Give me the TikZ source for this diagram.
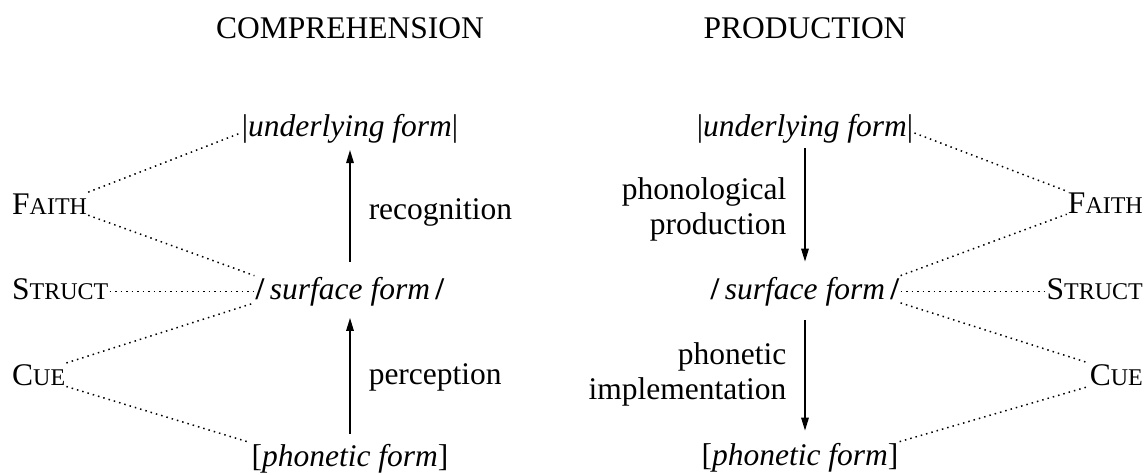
\documentclass[tikz,border=0pt]{standalone}
\usepackage{fontspec}
\setmainfont{Liberation Serif}
\usetikzlibrary{arrows.meta}
\newcommand\mysc[2]{#1{\fontsize{24}{28}\selectfont #2}}
\begin{document}
\begin{tikzpicture}[x=1pt,y=-1pt,
  every node/.style={inner sep=1pt, font=\fontsize{31.5}{35}\selectfont},
  dotline/.style={line width=1.5pt, dash pattern=on 1.5pt off 4pt},
  arr/.style={line width=1.5pt, -{Triangle[length=13pt,width=7.5pt]}},
  lab/.style={inner sep=0pt}
]
\useasboundingbox (0,0) rectangle (1147,474);

% titles
\node[anchor=base] (tC) at (350,38) {COMPREHENSION};
\node[anchor=base] (tP) at (805,38) {PRODUCTION};

% left column
\node[anchor=base] (uL) at (350,136) {|\textit{underlying form}|};
\node[anchor=base] (sL) at (350,299) {\textbf{/}\,\textit{surface form}\,\textbf{/}};
\node[anchor=base] (pL) at (350,466) {[\textit{phonetic form}]};
\node[anchor=base west] (fL) at (11,214) {\mysc{F}{AITH}};
\node[anchor=base west] (stL) at (11,299) {\mysc{S}{TRUCT}};
\node[anchor=base west] (cL) at (11,385) {\mysc{C}{UE}};

% right column
\node[anchor=base] (uR) at (805,136) {|\textit{underlying form}|};
\node[anchor=base] (sR) at (805,299) {\textbf{/}\,\textit{surface form}\,\textbf{/}};
\node[anchor=base] (pR) at (800,465) {[\textit{phonetic form}]};
\node[anchor=base east] (fR) at (1144,213) {\mysc{F}{AITH}};
\node[anchor=base east] (stR) at (1144,299) {\mysc{S}{TRUCT}};
\node[anchor=base east] (cR) at (1144,385) {\mysc{C}{UE}};

% dotted connectors, left
\draw[dotline] (fL.north east) -- ([yshift=3pt]uL.base west);
\draw[dotline] (fL.south east) -- (sL.north west);
\draw[dotline] (stL.east |- sL.west) -- (sL.west);
\draw[dotline] (cL.north east) -- ([yshift=4pt]sL.south west);
\draw[dotline] (cL.south east) -- (pL.north west);

% dotted connectors, right
\draw[dotline] ([yshift=3pt]uR.base east) -- (fR.north west);
\draw[dotline] (sR.north east) -- (fR.south west);
\draw[dotline] (sR.east) -- (stR.west |- sR.east);
\draw[dotline] ([yshift=4pt]sR.south east) -- (cR.north west);
\draw[dotline] (pR.north east) -- (cR.south west);

% arrows, left
\draw[arr, shorten <=14pt, shorten >=6pt] (sL.north) --
  node[lab, anchor=west, xshift=18pt, yshift=-3pt] (recL) {recognition} (uL.south);
\draw[arr, shorten <=9pt, shorten >=11pt] (pL.north) --
  node[lab, anchor=west, xshift=18pt, yshift=-3pt] (perL) {perception} (sL.south);

% arrows, right
\draw[arr, shorten <=4pt, shorten >=14pt] (uR.south) --
  node[lab, anchor=east, align=right, xshift=-18pt] (ppR) {phonological\\production} (sR.north);
\draw[arr, shorten <=13pt, shorten >=11pt] (sR.south) --
  node[lab, anchor=east, align=right, xshift=-18pt] (piR) {phonetic\\implementation} (sR.south |- pR.north);
\end{tikzpicture}
\end{document}
